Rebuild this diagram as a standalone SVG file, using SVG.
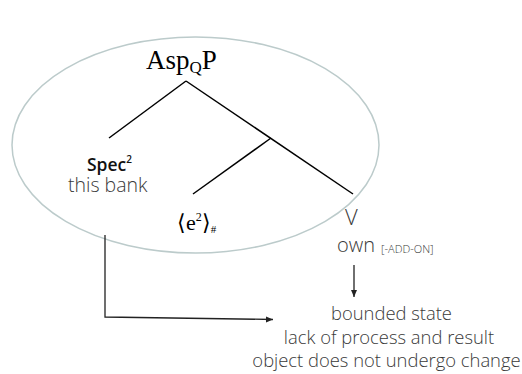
<svg xmlns="http://www.w3.org/2000/svg" width="522" height="374" viewBox="0 0 522 374">
<defs>
<style>
.sans{font-family:"Open Sans","Noto Sans",sans-serif;fill:#3a3a3a;font-weight:300}
.serif{font-family:"Liberation Serif","Times New Roman",serif;fill:#000}
.edge{stroke:#000;stroke-width:1.5;fill:none}
.conn{stroke:#222;stroke-width:1.3;fill:none}
</style>
<marker id="ah" markerWidth="8" markerHeight="8" refX="7" refY="4" orient="auto" markerUnits="userSpaceOnUse">
<path d="M0,1 L7,4 L0,7 Z" fill="#222"/>
</marker>
</defs>
<rect width="522" height="374" fill="#fff"/>
<ellipse cx="195.5" cy="145" rx="183.5" ry="108" fill="none" stroke="#bccbcb" stroke-width="1.5"/>
<g id="tree-edges">
<line class="edge" x1="186" y1="81" x2="109" y2="138"/>
<line class="edge" x1="186" y1="81" x2="353" y2="194"/>
<line class="edge" x1="271" y1="138" x2="193" y2="194"/>
</g>
<g id="node-aspqp"><text class="serif" x="146" y="69" font-size="27">Asp<tspan font-size="17" dy="4">Q</tspan><tspan dy="-4">P</tspan></text></g>
<g id="node-spec">
<text class="sans" x="87" y="171" font-size="17.5" style="font-weight:600;fill:#111">Spec<tspan font-size="10" dy="-8">2</tspan></text>
<text class="sans" x="68" y="192" font-size="19.5">this bank</text>
</g>
<g id="node-e"><text class="serif" x="177" y="230" font-size="22">⟨e<tspan font-size="12" dy="-9">2</tspan><tspan dy="9">⟩</tspan><tspan font-size="11" dy="3">#</tspan></text></g>
<g id="node-v">
<text class="sans" x="345" y="225" font-size="22">V</text>
<text class="sans" x="337" y="252" font-size="20">own</text>
<text class="sans" x="381" y="253" font-size="11">[-ADD-ON]</text>
</g>
<g id="node-result">
<text class="sans" x="391.5" y="320" font-size="18.4" text-anchor="middle">bounded state</text>
<text class="sans" x="389" y="344" font-size="18.4" text-anchor="middle">lack of process and result</text>
<text class="sans" x="386.5" y="367" font-size="18.4" text-anchor="middle">object does not undergo change</text>
</g>
<g id="connectors">
<path class="conn" d="M354,265 L354,297" marker-end="url(#ah)"/>
<path class="conn" d="M105,235 L105,317 L273,319.5" marker-end="url(#ah)"/>
</g>
</svg>
